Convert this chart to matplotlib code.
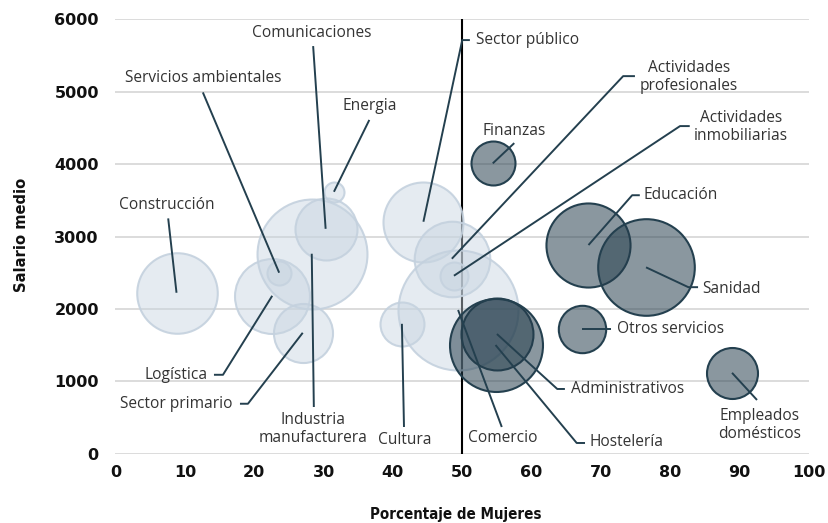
import matplotlib
matplotlib.use("Agg")
import matplotlib.pyplot as plt

# Sectores de actividad: % de mujeres, salario medio (€) y ocupados (miles)
sectores = [
    "Construcción", "Logística", "Servicios ambientales", "Industria manufacturera",
    "Comunicaciones", "Energia", "Sector primario", "Cultura", "Sector público",
    "Actividades profesionales", "Actividades inmobiliarias", "Comercio",
    "Finanzas", "Educación", "Sanidad", "Otros servicios",
    "Empleados domésticos", "Administrativos", "Hostelería",
]
pct_mujeres = [8.8, 22.6, 23.6, 28.3, 30.3, 31.5, 27.0, 41.3, 44.4,
               48.5, 48.8, 49.4, 54.4, 68.2, 76.5, 67.3, 88.9, 55.0, 54.8]
salario = [2223, 2181, 2500, 2762, 3106, 3618, 1670, 1794, 3204,
           2693, 2458, 1985, 4010, 2882, 2574, 1722, 1117, 1653, 1501]
ocupados = [1460, 1265, 130, 2720, 865, 90, 785, 435, 1440,
            1285, 176, 3240, 435, 1590, 2100, 505, 585, 1165, 1945]

etiquetas = {
    "Industria manufacturera": "Industria\nmanufacturera",
    "Actividades profesionales": "Actividades\nprofesionales",
    "Actividades inmobiliarias": "Actividades\ninmobiliarias",
    "Empleados domésticos": "Empleados\ndomésticos",
}

x_ticks = list(range(0, 101, 10))
y_ticks = list(range(0, 6001, 1000))

# Posición de cada rótulo: (x, y, alineación, puntos de la guía hacia la burbuja)
rotulos = {
    "Construcción": (7.4, 3430, "center", [(7.6, 3250)]),
    "Servicios ambientales": (12.6, 5190, "center", [(12.6, 4990)]),
    "Comunicaciones": (28.3, 5810, "center", [(28.5, 5630)]),
    "Energia": (36.7, 4800, "center", [(36.6, 4610)]),
    "Sector público": (52.0, 5713, "left", [(51.1, 5713), (50.0, 5713)]),
    "Actividades profesionales": (82.7, 5200, "center", [(74.9, 5215), (73.2, 5215)]),
    "Actividades inmobiliarias": (90.2, 4510, "center", [(82.8, 4525), (81.4, 4525)]),
    "Finanzas": (57.5, 4457, "center", [(57.5, 4290)]),
    "Educación": (76.1, 3570, "left", [(75.6, 3570), (74.5, 3570)]),
    "Sanidad": (84.6, 2270, "left", [(84.0, 2300), (82.6, 2300)]),
    "Otros servicios": (72.3, 1722, "left", [(71.4, 1722)]),
    "Empleados domésticos": (92.9, 397, "center", [(92.5, 742)]),
    "Administrativos": (65.7, 894, "left", [(64.8, 894), (63.7, 894)]),
    "Hostelería": (68.4, 165, "left", [(67.7, 148), (66.5, 148)]),
    "Comercio": (55.9, 217, "center", [(55.7, 369)]),
    "Cultura": (41.7, 189, "center", [(41.6, 369)]),
    "Industria manufacturera": (28.5, 340, "center", [(28.6, 645)]),
    "Sector primario": (16.9, 690, "right", [(17.95, 690), (19.1, 690)]),
    "Logística": (13.3, 1090, "right", [(14.2, 1090), (15.5, 1090)]),
}

claro_fill = (0.78, 0.83, 0.88, 0.45)
claro_edge = (0.77, 0.82, 0.87, 0.9)
oscuro_fill = (0.141, 0.239, 0.298, 0.535)
oscuro_edge = "#24404f"
guia = "#24404f"
texto = "#333333"

fig = plt.figure(figsize=(8.29, 5.23), dpi=100)
ax = fig.add_axes([0.1393, 0.1325, 0.8366, 0.8306])
ax.set_xlim(0, 100)
ax.set_ylim(0, 6000)

for y in y_ticks:
    ax.axhline(y, color="#d9d9d9", lw=1.3, zorder=0)

ax.vlines(50, 0, 6000, color="black", lw=1.5, zorder=1)

escala = 2.304  # puntos^2 por mil ocupados
for i, s in enumerate(sectores):
    if pct_mujeres[i] < 50:
        fc, ec = claro_fill, claro_edge
    else:
        fc, ec = oscuro_fill, oscuro_edge
    ax.scatter(pct_mujeres[i], salario[i], s=ocupados[i] * escala,
               facecolor=fc, edgecolor=ec, linewidth=1.5, zorder=2, clip_on=False)

for i, s in enumerate(sectores):
    tx, ty, ha, pts = rotulos[s]
    xs = [p[0] for p in pts] + [pct_mujeres[i]]
    ys = [p[1] for p in pts] + [salario[i]]
    ax.plot(xs, ys, color=guia, lw=1.4, zorder=4, solid_capstyle="butt",
            clip_on=False)
    ax.text(tx, ty, etiquetas.get(s, s), ha=ha, va="center", fontsize=11.2,
            family="Open Sans", color=texto, linespacing=1.15, zorder=5)

for sp in ax.spines.values():
    sp.set_visible(False)
ax.set_xticks(x_ticks)
ax.set_yticks(y_ticks)
ax.tick_params(length=0)
ax.tick_params(axis="y", pad=12)
ax.tick_params(axis="x", pad=8)
for lab in ax.get_xticklabels() + ax.get_yticklabels():
    lab.set_fontsize(11.5)
    lab.set_fontweight("bold")
    lab.set_color("#111111")

fig.text(456 / 829, 1 - 514 / 523, "Porcentaje de Mujeres", ha="center", va="center",
         fontsize=10.8, fontweight="bold", family="DejaVu Sans", stretch="condensed",
         color="#111111")
fig.text(22 / 829, 1 - 235 / 523, "Salario medio", ha="center", va="center",
         rotation=90, fontsize=11.8, fontweight="bold", family="DejaVu Sans",
         stretch="condensed", color="#111111")

fig.savefig("out.png", dpi=100)
